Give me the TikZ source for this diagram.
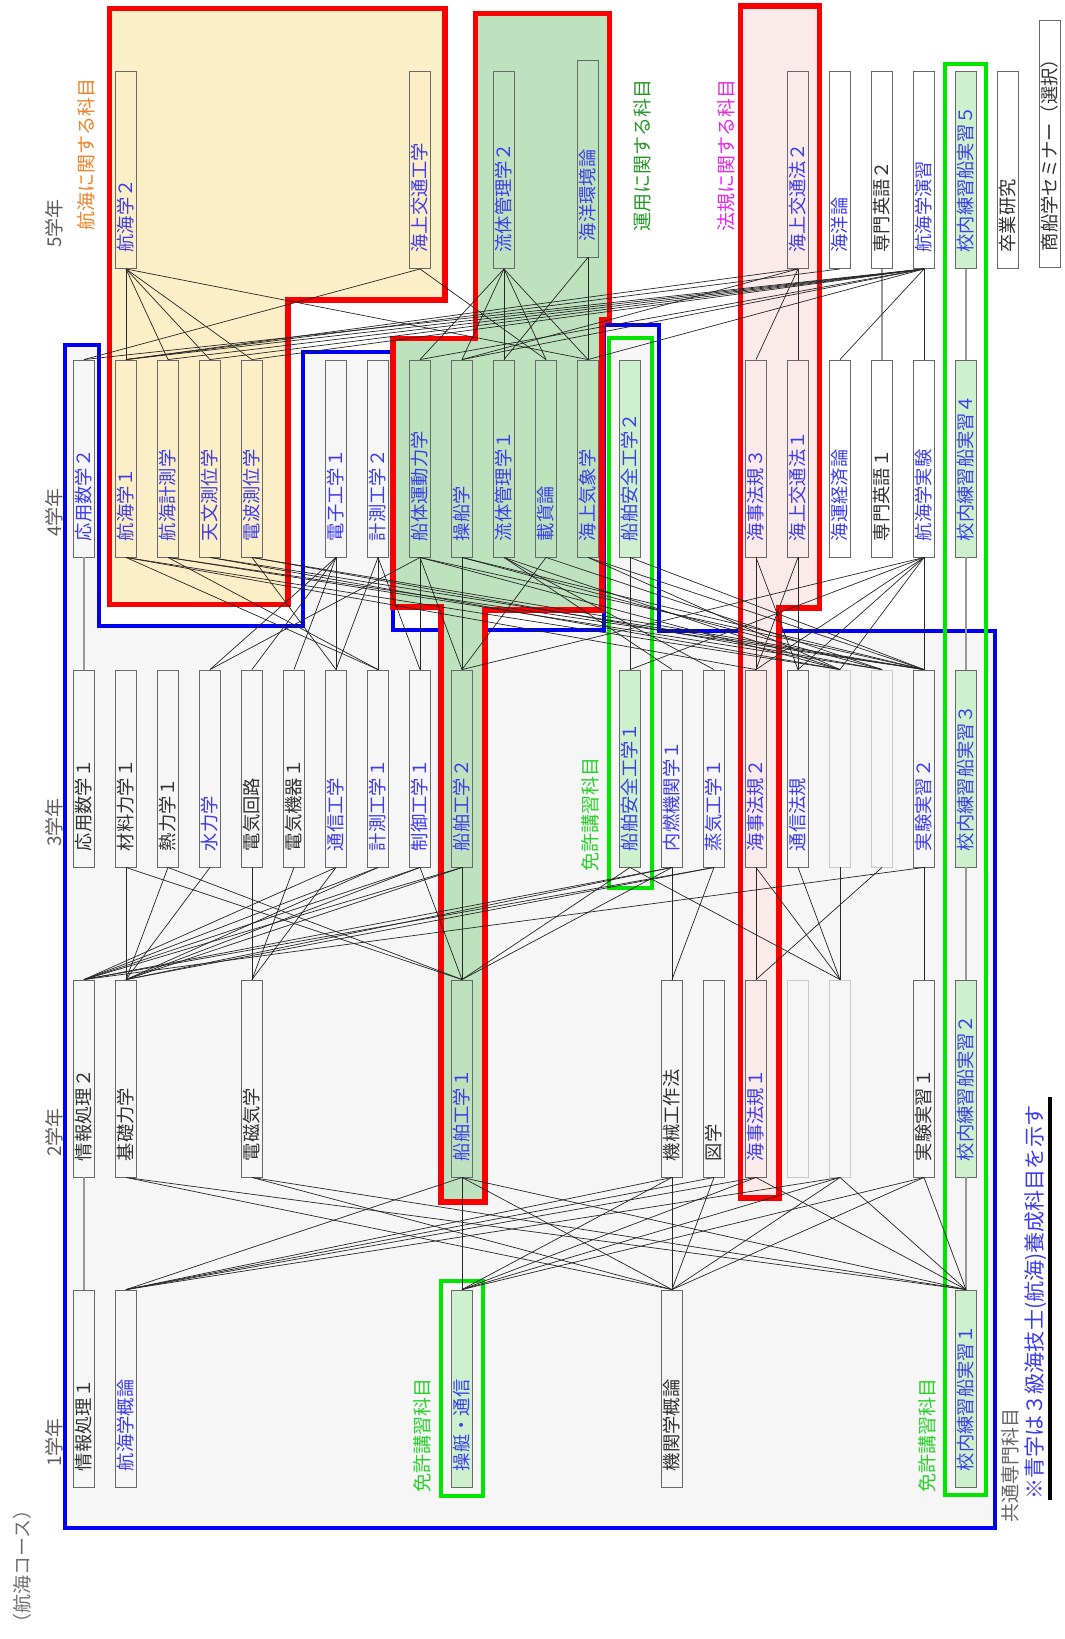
\documentclass[tikz,border=0pt]{standalone}
\usepackage{fontspec}
\setmainfont{Noto Sans CJK JP}
\usetikzlibrary{positioning}
\definecolor{subjblue}  {RGB}{ 60,  60, 235}
\definecolor{subjblack} {RGB}{ 50,  50,  50}
\definecolor{boxgray}   {RGB}{105, 105, 105}
\definecolor{navfill}   {RGB}{252, 238, 198}
\definecolor{opfill}    {RGB}{190, 226, 190}
\definecolor{lawfill}   {RGB}{251, 234, 234}
\definecolor{licfill}   {RGB}{205, 240, 205}
\definecolor{commonfill}{RGB}{246, 246, 246}
\definecolor{frameblue} {RGB}{  0,   0, 245}
\definecolor{framered}  {RGB}{250,   0,   0}
\definecolor{framegreen}{RGB}{  0, 230,   0}
\definecolor{navorange} {RGB}{240, 130,  40}
\definecolor{opgreen}   {RGB}{ 40, 150,  40}
\definecolor{lawmagenta}{RGB}{230,  40, 230}
\definecolor{licgreen}  {RGB}{ 40, 210,  40}

\begin{document}
\begin{tikzpicture}[
  x=0.025cm, y=-0.025cm,
  subj/.style={draw=boxgray,line width=0.6pt,rotate=90,
    minimum width=4.925cm,minimum height=0.525cm,
    inner xsep=0.4cm,inner ysep=0pt,text width=4.125cm,align=left,
    font=\fontsize{13}{13}\selectfont},
  lic/.style={subj,fill=licfill,text=subjblue},
  ghost/.style={subj,draw=boxgray!35},
  lbl/.style={rotate=90,anchor=west,inner sep=0pt,font=\fontsize{13.5}{14}\selectfont},
  link/.style={line width=0.5pt,black!85},
  samecol/.style={line width=0.9pt,gray!80},
  redframe/.style={draw=framered,line width=1.3mm},
]
\useasboundingbox (0,0) rectangle (1065,1639);

%% ── Regions ──────────────────────────────────────────────────────────────
\path[fill=commonfill,draw=frameblue,line width=1mm]
  (65,345) -- (98.5,345) -- (98.5,626) -- (303,626) -- (303,352) -- (393,352)
  -- (393,630) -- (604,630) -- (604,325) -- (659,325) -- (659,631)
  -- (995,631) -- (995,1528) -- (65,1528) -- cycle;
\path[redframe,fill=navfill]
  (109.5,8.5) -- (445,8.5) -- (445,300) -- (288,300) -- (288,604.5)
  -- (109.5,604.5) -- cycle;
\path[redframe,fill=opfill]
  (475.5,13.5) -- (609.5,13.5) -- (609.5,320) -- (602,320) -- (602,610)
  -- (485,610) -- (485,1202) -- (441,1202) -- (441,607) -- (393,607)
  -- (393,338.5) -- (475.5,338.5) -- cycle;
\path[redframe,fill=lawfill]
  (740.5,6) -- (819.5,6) -- (819.5,608) -- (779,608) -- (779,1198)
  -- (740.5,1198) -- cycle;

%% licence frames
\draw[framegreen,line width=0.8mm] (609,338) rectangle (652,888);
\draw[framegreen,line width=0.8mm] (945,64) rectangle (986,1495);
\draw[framegreen,line width=0.8mm] (441,1281) rectangle (483,1496);

%% ── Labels ───────────────────────────────────────────────────────────────
\node[lbl,text=subjblack!80] at (54,248)  {5学年};
\node[lbl,text=subjblack!80] at (54,537)  {4学年};
\node[lbl,text=subjblack!80] at (54,847)  {3学年};
\node[lbl,text=subjblack!80] at (54,1157) {2学年};
\node[lbl,text=subjblack!80] at (54,1467) {1学年};
\node[lbl,text=subjblack!70] at (22,1633) {（航海コース）};

\node[lbl,text=navorange]  at (86,231)  {航海に関する科目};
\node[lbl,text=opgreen]    at (642,232) {運用に関する科目};
\node[lbl,text=lawmagenta] at (726,232) {法規に関する科目};
\node[lbl,text=licgreen]   at (590,872) {免許講習科目};
\node[lbl,text=licgreen]   at (422,1493) {免許講習科目};
\node[lbl,text=licgreen]   at (927,1493) {免許講習科目};
\node[lbl,text=subjblack!75] at (1010,1523) {共通専門科目};
\node[lbl,text=subjblue,font=\fontsize{15}{15}\selectfont] (note)
  at (1036,1500) {※青字は３級海技士(航海)養成科目を示す};
\draw[line width=0.8mm] (1050,1500) -- (1050,1097);

%% ── Subjects ─────────────────────────────────────────────────────────────
% 5th year
\foreach \c/\clr/\txt in {1/subjblue/航海学２,8/subjblue/海上交通工学,
    10/subjblue/流体管理学２,17/subjblue/海上交通法２,18/subjblue/海洋論,
    19/subjblack/専門英語２,20/subjblue/航海学演習,22/subjblack/卒業研究}
  \node[subj,text=\clr] (y5c\c) at ({84+42*\c},170) {\txt};
\node[subj,text=subjblue] (y5c12) at (588,158.5) {海洋環境論};
\node[lic] (y5c21) at (966,170) {校内練習船実習５};
\node[subj,text=subjblack,minimum width=6.175cm,text width=5.375cm]
  (y5c23) at (1050,143.5) {商船学セミナー（選択）};

% 4th year
\foreach \c/\clr/\txt in {0/subjblue/応用数学２,1/subjblue/航海学１,
    2/subjblue/航海計測学,3/subjblue/天文測位学,4/subjblue/電波測位学,
    6/subjblue/電子工学１,7/subjblue/計測工学２,8/subjblue/船体運動力学,
    9/subjblue/操船学,10/subjblue/流体管理学１,11/subjblue/載貨論,
    12/subjblue/海上気象学,16/subjblue/海事法規３,17/subjblue/海上交通法１,
    18/subjblue/海運経済論,19/subjblack/専門英語１,20/subjblue/航海学実験}
  \node[subj,text=\clr] (y4c\c) at ({84+42*\c},458.5) {\txt};
\node[lic] (y4c13) at (630,458.5) {船舶安全工学２};
\node[lic] (y4c21) at (966,458.5) {校内練習船実習４};

% 3rd year
\foreach \c/\clr/\txt in {0/subjblack/応用数学１,1/subjblack/材料力学１,
    2/subjblack/熱力学１,3/subjblue/水力学,4/subjblack/電気回路,
    5/subjblack/電気機器１,6/subjblue/通信工学,7/subjblue/計測工学１,
    8/subjblue/制御工学１,9/subjblue/船舶工学２,14/subjblue/内燃機関学１,
    15/subjblue/蒸気工学１,16/subjblue/海事法規２,17/subjblue/通信法規,
    20/subjblue/実験実習２}
  \node[subj,text=\clr] (y3c\c) at ({84+42*\c},768.5) {\txt};
\node[lic] (y3c13) at (630,768.5) {船舶安全工学１};
\node[lic] (y3c21) at (966,768.5) {校内練習船実習３};
\node[ghost] (y3c18) at (840,768.5) {};
\node[ghost] (y3c19) at (882,768.5) {};

% 2nd year
\foreach \c/\clr/\txt in {0/subjblack/情報処理２,1/subjblack/基礎力学,
    4/subjblack/電磁気学,9/subjblue/船舶工学１,14/subjblack/機械工作法,
    15/subjblack/図学,16/subjblue/海事法規１,20/subjblack/実験実習１}
  \node[subj,text=\clr] (y2c\c) at ({84+42*\c},1078.5) {\txt};
\node[lic] (y2c21) at (966,1078.5) {校内練習船実習２};
\node[ghost] (y2c17) at (798,1078.5) {};
\node[ghost] (y2c18) at (840,1078.5) {};

% 1st year
\foreach \c/\clr/\txt in {0/subjblack/情報処理１,1/subjblue/航海学概論,
    14/subjblack/機関学概論}
  \node[subj,text=\clr] (y1c\c) at ({84+42*\c},1388.5) {\txt};
\node[lic] (y1c9)  at (462,1388.5) {操艇・通信};
\node[lic] (y1c21) at (966,1388.5) {校内練習船実習１};

%% ── Same-column links ────────────────────────────────────────────────────
\foreach \a/\b in {y5c19/y4c19,y5c21/y4c21,y4c0/y3c0,y4c21/y3c21,
    y3c21/y2c21,y2c0/y1c0,y2c21/y1c21}
  \draw[samecol] (\a.west) -- (\b.east);

%% ── Prerequisite links ───────────────────────────────────────────────────
% 5th -> 4th
\foreach \a/\b in {y5c1/y4c1,y5c1/y4c2,y5c1/y4c3,y5c1/y4c4,y5c1/y4c12,
    y5c8/y4c0,y5c8/y4c11,
    y5c10/y4c8,y5c10/y4c9,y5c10/y4c10,y5c10/y4c11,y5c10/y4c12,
    y5c12/y4c12,y5c12/y4c10,
    y5c17/y4c16,y5c17/y4c17,y5c17/y4c1,y5c17/y4c9,y5c18/y4c1,
    y5c20/y4c0,y5c20/y4c1,y5c20/y4c2,y5c20/y4c3,y5c20/y4c4,y5c20/y4c8,
    y5c20/y4c9,y5c20/y4c12,y5c20/y4c18,y5c20/y4c20}
  \draw[link] (\a.west) -- (\b.east);
% 4th -> 3rd
\foreach \a/\b in {y4c1/y3c7,y4c1/y3c16,y4c1/y3c18,y4c2/y3c7,y4c2/y3c20,
    y4c2/y3c19,y4c3/y3c20,y4c3/y3c18,y4c4/y3c6,y4c4/y3c20,y4c4/y3c19,
    y4c6/y3c3,y4c6/y3c4,y4c6/y3c5,y4c6/y3c6,
    y4c7/y3c7,y4c7/y3c8,y4c7/y3c6,y4c8/y3c3,y4c8/y3c9,y4c8/y3c8,
    y4c8/y3c20,y4c8/y3c18,y4c9/y3c9,y4c9/y3c20,y4c9/y3c19,
    y4c10/y3c14,y4c10/y3c15,y4c10/y3c18,y4c11/y3c9,y4c11/y3c19,
    y4c12/y3c20,y4c12/y3c18,y4c13/y3c13,y4c13/y3c20,
    y4c16/y3c16,y4c16/y3c17,y4c17/y3c16,y4c17/y3c17,
    y4c20/y3c20,y4c20/y3c16,y4c20/y3c17,y4c20/y3c18,y4c20/y3c9,y4c20/y3c13}
  \draw[link] (\a.west) -- (\b.east);
% 3rd -> 2nd
\foreach \a/\b in {y3c1/y2c1,y3c2/y2c1,y3c3/y2c1,y3c1/y2c9,y3c2/y2c9,
    y3c4/y2c4,y3c5/y2c4,y3c6/y2c4,
    y3c6/y2c0,y3c7/y2c0,y3c8/y2c0,y3c9/y2c0,y3c14/y2c0,y3c15/y2c0,y3c20/y2c0,
    y3c7/y2c1,y3c8/y2c1,y3c9/y2c1,y3c14/y2c1,y3c15/y2c1,
    y3c9/y2c9,y3c8/y2c9,y3c13/y2c9,y3c14/y2c9,
    y3c14/y2c14,y3c15/y2c14,y3c16/y2c16,y3c19/y2c16,
    y3c17/y2c18,y3c13/y2c18,y3c16/y2c18,y3c18/y2c18,y3c20/y2c20}
  \draw[link] (\a.west) -- (\b.east);
% 2nd -> 1st
\foreach \a/\b in {y2c1/y1c14,y2c1/y1c21,y2c4/y1c14,y2c4/y1c21,
    y2c9/y1c9,y2c9/y1c1,y2c9/y1c14,y2c9/y1c21,
    y2c14/y1c14,y2c14/y1c9,y2c14/y1c1,y2c15/y1c14,y2c15/y1c1,
    y2c16/y1c1,y2c16/y1c9,y2c16/y1c21,
    y2c18/y1c1,y2c18/y1c9,y2c18/y1c14,y2c18/y1c21,
    y2c20/y1c9,y2c20/y1c14,y2c20/y1c21}
  \draw[link] (\a.west) -- (\b.east);

\end{tikzpicture}
\end{document}
